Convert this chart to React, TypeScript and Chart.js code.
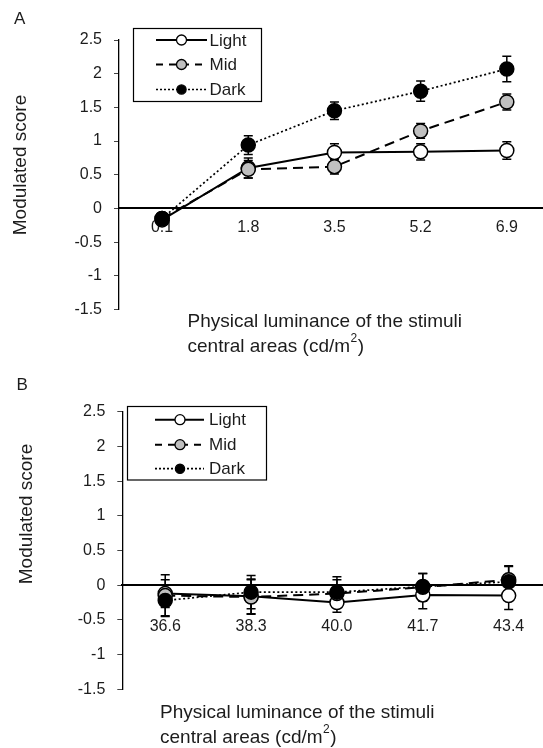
import React, { useEffect, useRef } from "react";
import { Chart, registerables } from "chart.js";

Chart.register(...registerables);

// ---------- data ----------
const seriesNames = ["Light", "Mid", "Dark"];
const categoriesA = ["0.1", "1.8", "3.5", "5.2", "6.9"];
const categoriesB = ["36.6", "38.3", "40.0", "41.7", "43.4"];

const lightA = [-0.17, 0.6, 0.83, 0.84, 0.86];
const midA = [-0.15, 0.58, 0.62, 1.15, 1.58];
const darkA = [-0.15, 0.94, 1.45, 1.74, 2.07];
const lightErrA = [0.08, 0.15, 0.13, 0.12, 0.13];
const midErrA = [0.08, 0.13, 0.11, 0.11, 0.12];
const darkErrA = [0.08, 0.14, 0.13, 0.15, 0.19];

const lightB = [-0.12, -0.16, -0.25, -0.14, -0.15];
const midB = [-0.15, -0.17, -0.12, -0.03, 0.08];
const darkB = [-0.22, -0.1, -0.1, -0.02, 0.05];
const lightErrB = [0.2, 0.25, 0.14, 0.2, 0.2];
const midErrB = [0.3, 0.25, 0.2, 0.2, 0.2];
const darkErrB = [0.22, 0.24, 0.22, 0.19, 0.22];

const yMin = -1.5;
const yMax = 2.5;
const yStep = 0.5;

const yTitleText = "Modulated score";
const xTitleLine1 = "Physical luminance of the stimuli";
const xTitleLine2 = "central areas (cd/m";
const xTitleSup = "2";
const xTitleEnd = ")";

// ---------- styles ----------
const FONT = "'Liberation Sans', Arial, sans-serif";
const TEXT = "#1c1c1c";
const seriesStyles = [
  { fill: "#ffffff", dash: [] as number[], width: 2, legendDash: [] as number[], legendR: 5 },
  { fill: "#c0c0c0", dash: [10, 6], width: 2, legendDash: [7, 6], legendR: 5 },
  { fill: "#000000", dash: [2, 2.5], width: 1.7, legendDash: [2, 2], legendR: 4.6 },
];

type PanelSpec = {
  label: string;
  categories: string[];
  values: number[][];
  errors: number[][];
  xMax: number;
  pad: { left: number; top: number; bottom: number };
  xTickPadding: number;
  legend: { x: number; y: number; w: number; h: number; rows: number[]; x1: number; x2: number; mx: number; tx: number };
  yTitle: { x: number; y: number };
  xTitle: { x: number; y1: number; y2: number };
  panelLabel: { x: number; y: number };
};

const panelA: PanelSpec = {
  label: "A",
  categories: categoriesA,
  values: [lightA, midA, darkA],
  errors: [lightErrA, midErrA, darkErrA],
  xMax: 4.42,
  pad: { left: 59, top: 40, bottom: 64.5 },
  xTickPadding: 9.5,
  legend: { x: 133.5, y: 28.5, w: 128, h: 73, rows: [40, 64.5, 89.5], x1: 156, x2: 207, mx: 181.5, tx: 209.5 },
  yTitle: { x: 26, y: 165 },
  xTitle: { x: 187.5, y1: 327, y2: 352 },
  panelLabel: { x: 14, y: 23.5 },
};

const panelB: PanelSpec = {
  label: "B",
  categories: categoriesB,
  values: [lightB, midB, darkB],
  errors: [lightErrB, midErrB, darkErrB],
  xMax: 4.4,
  pad: { left: 62.3, top: 37.7, bottom: 58.7 },
  xTickPadding: 31.5,
  legend: { x: 127.5, y: 32.5, w: 139, h: 73.5, rows: [45.7, 70.7, 94.7], x1: 155, x2: 204, mx: 180, tx: 209 },
  yTitle: { x: 32, y: 140 },
  xTitle: { x: 160, y1: 344.3, y2: 368.7 },
  panelLabel: { x: 16.5, y: 15.5 },
};

function buildConfig(spec: PanelSpec): any {
  const datasets = spec.values.map((vals, i) => ({
    label: seriesNames[i],
    data: vals.map((v, j) => ({ x: j, y: v })),
    borderColor: "#000",
    borderWidth: seriesStyles[i].width,
    borderDash: seriesStyles[i].dash,
    pointRadius: 7,
    pointHoverRadius: 7,
    pointBorderWidth: 1.5,
    pointBorderColor: "#000",
    pointBackgroundColor: seriesStyles[i].fill,
    fill: false,
    tension: 0,
    order: 3 - i,
  }));

  const errorBarPlugin = {
    id: "errorBars",
    beforeDatasetsDraw(chart: any) {
      const { ctx } = chart;
      const xs = chart.scales.x;
      const ys = chart.scales.y;
      ctx.save();
      ctx.strokeStyle = "#000";
      ctx.lineWidth = 1.5;
      ctx.setLineDash([]);
      spec.values.forEach((vals, i) => {
        vals.forEach((v, j) => {
          const e = spec.errors[i][j];
          const px = xs.getPixelForValue(j);
          const t = ys.getPixelForValue(v + e);
          const b = ys.getPixelForValue(v - e);
          ctx.beginPath();
          ctx.moveTo(px, t);
          ctx.lineTo(px, b);
          ctx.moveTo(px - 4.5, t);
          ctx.lineTo(px + 4.5, t);
          ctx.moveTo(px - 4.5, b);
          ctx.lineTo(px + 4.5, b);
          ctx.stroke();
        });
      });
      ctx.restore();
    },
  };

  const annotationPlugin = {
    id: "panelText",
    afterDraw(chart: any) {
      const ctx = chart.ctx;
      ctx.save();
      ctx.fillStyle = TEXT;
      // panel label
      ctx.font = `17px ${FONT}`;
      ctx.textAlign = "left";
      ctx.textBaseline = "alphabetic";
      ctx.fillText(spec.label, spec.panelLabel.x, spec.panelLabel.y);
      // y title
      ctx.save();
      ctx.translate(spec.yTitle.x, spec.yTitle.y);
      ctx.rotate(-Math.PI / 2);
      ctx.font = `19px ${FONT}`;
      ctx.textAlign = "center";
      ctx.fillText(yTitleText, 0, 0);
      ctx.restore();
      // x title
      ctx.font = `19px ${FONT}`;
      ctx.textAlign = "left";
      ctx.fillText(xTitleLine1, spec.xTitle.x, spec.xTitle.y1);
      ctx.fillText(xTitleLine2, spec.xTitle.x, spec.xTitle.y2);
      let cx = spec.xTitle.x + ctx.measureText(xTitleLine2).width + 0.5;
      ctx.font = `12px ${FONT}`;
      ctx.fillText(xTitleSup, cx, spec.xTitle.y2 - 10);
      cx += ctx.measureText(xTitleSup).width + 0.5;
      ctx.font = `19px ${FONT}`;
      ctx.fillText(xTitleEnd, cx, spec.xTitle.y2);

      // legend
      const L = spec.legend;
      ctx.fillStyle = "#fff";
      ctx.fillRect(L.x, L.y, L.w, L.h);
      ctx.strokeStyle = "#000";
      ctx.lineWidth = 1.2;
      ctx.strokeRect(L.x, L.y, L.w, L.h);
      seriesNames.forEach((name, i) => {
        const y = L.rows[i];
        const st = seriesStyles[i];
        ctx.strokeStyle = "#000";
        ctx.lineWidth = st.width;
        ctx.setLineDash(st.legendDash);
        ctx.beginPath();
        ctx.moveTo(L.x1, y);
        ctx.lineTo(L.x2, y);
        ctx.stroke();
        ctx.setLineDash([]);
        ctx.beginPath();
        ctx.arc(L.mx, y, st.legendR, 0, Math.PI * 2);
        ctx.fillStyle = st.fill;
        ctx.fill();
        ctx.lineWidth = 1.3;
        ctx.stroke();
        ctx.fillStyle = TEXT;
        ctx.font = `17px ${FONT}`;
        ctx.textAlign = "left";
        ctx.textBaseline = "middle";
        ctx.fillText(name, L.tx, y + 1);
      });
      ctx.restore();
    },
  };

  const cats = spec.categories;

  return {
    type: "line",
    data: { datasets },
    plugins: [errorBarPlugin, annotationPlugin],
    options: {
      responsive: false,
      animation: false,
      events: [],
      layout: {
        autoPadding: false,
        padding: { left: spec.pad.left, right: 0, top: spec.pad.top, bottom: spec.pad.bottom },
      },
      plugins: { legend: { display: false }, tooltip: { enabled: false }, title: { display: false } },
      scales: {
        x: {
          type: "linear",
          min: -0.5,
          max: spec.xMax,
          position: { y: 0 },
          afterBuildTicks: (s: any) => {
            s.ticks = cats.map((_, i) => ({ value: i }));
          },
          afterFit: (s: any) => {
            s.paddingLeft = 0;
            s.paddingRight = 0;
          },
          ticks: {
            callback: (v: number) => cats[v],
            autoSkip: false,
            maxRotation: 0,
            padding: spec.xTickPadding,
            color: TEXT,
            font: { family: FONT, size: 16 },
          },
          grid: { display: true, drawOnChartArea: false, drawTicks: false },
          border: { display: true, color: "#000", width: 2 },
        },
        y: {
          type: "linear",
          position: "left",
          min: yMin,
          max: yMax,
          afterFit: (s: any) => {
            s.width = 60;
          },
          ticks: {
            stepSize: yStep,
            callback: (v: number) => String(Math.round(v * 10) / 10),
            padding: 12,
            color: TEXT,
            font: { family: FONT, size: 16 },
          },
          grid: { display: true, drawOnChartArea: false, drawTicks: true, tickLength: 5, color: "#444", lineWidth: 1 },
          border: { display: true, color: "#000", width: 1.3 },
        },
      },
    },
  };
}

function PanelChart({ spec, top }: { spec: PanelSpec; top: number }) {
  const ref = useRef<HTMLCanvasElement>(null);
  useEffect(() => {
    const chart = new Chart(ref.current as HTMLCanvasElement, buildConfig(spec));
    return () => chart.destroy();
  }, [spec]);
  return (
    <canvas
      ref={ref}
      width={543}
      height={374}
      style={{ position: "absolute", left: 0, top, width: 543, height: 374, display: "block" }}
    />
  );
}

export default function App() {
  return (
    <div
      style={{
        position: "absolute",
        left: 0,
        top: 0,
        width: 543,
        height: 748,
        background: "#fff",
        overflow: "hidden",
      }}
    >
      <PanelChart spec={panelA} top={0} />
      <PanelChart spec={panelB} top={374} />
    </div>
  );
}
